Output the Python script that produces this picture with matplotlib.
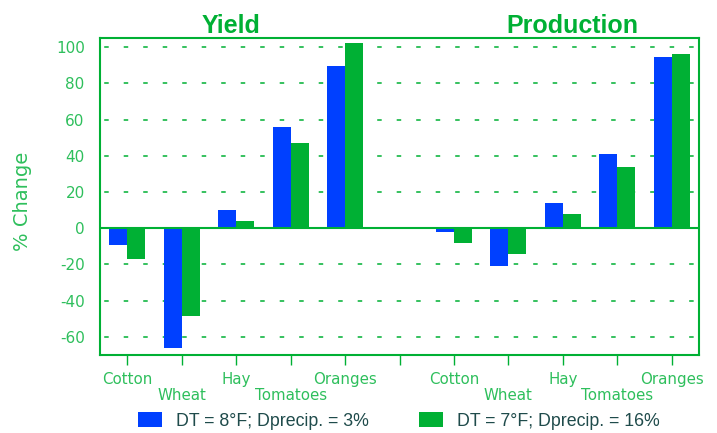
import matplotlib
matplotlib.use("Agg")
import matplotlib.pyplot as plt
from matplotlib import font_manager
from matplotlib.patches import Patch
import numpy as np

plt.rcParams['lines.scale_dashes'] = False

names = {f.name for f in font_manager.fontManager.ttflist}
narrow = 'Liberation Sans Narrow' if 'Liberation Sans Narrow' in names else 'Liberation Sans'

crops = ["Cotton", "Wheat", "Hay", "Tomatoes", "Oranges"]
yield_8F = [-9, -66, 10, 56, 89.5]
yield_7F = [-17, -48.5, 4, 47, 102]
prod_8F = [-2, -21, 14, 41, 94.5]
prod_7F = [-8, -14, 8, 34, 96]
series_labels = ["DT = 8°F; Dprecip. = 3%", "DT = 7°F; Dprecip. = 16%"]
panel_titles = ["Yield", "Production"]
yticks = [-60, -40, -20, 0, 20, 40, 60, 80, 100]

BLUE = "#0040FF"
GREEN = "#00B034"
TICKGREEN = "#2EBF5C"
LEGTEXT = "#1F4B4B"

fig = plt.figure(figsize=(7.17, 4.33), dpi=100)
ax = fig.add_axes([100/717, 1-355/433, 599/717, 317/433])

n = len(crops)
pos_yield = np.arange(n)
pos_prod = np.arange(n) + n + 1
w = 0.33

s1 = list(yield_8F) + list(prod_8F)
s2 = list(yield_7F) + list(prod_7F)
xs = np.concatenate([pos_yield, pos_prod])
ax.bar(xs - w/2, s1, width=w, color=BLUE, zorder=3)
ax.bar(xs + w/2, s2, width=w, color=GREEN, zorder=3)

for yv in yticks:
    if yv == 0:
        ax.axhline(0, color=GREEN, lw=1.5, zorder=4)
    else:
        ax.axhline(yv, color=GREEN, lw=1.3, alpha=0.85,
                   linestyle=(11, (4.5/1.389, 15/1.389)), zorder=1)

ax.set_xlim(-0.5, 2*n + 0.5)
ax.set_ylim(-70, 105)
ax.set_yticks(yticks)
ax.set_yticklabels([str(v) for v in yticks])
ax.tick_params(axis='y', length=0, pad=11, labelsize=11, labelcolor=TICKGREEN)

# staggered labels: first row on major ticks, second row on minor ticks
row1_pos, row1_lab, row2_pos, row2_lab = [], [], [], []
for base in (pos_yield, pos_prod):
    for i, c in enumerate(crops):
        if i % 2 == 0:
            row1_pos.append(base[i]); row1_lab.append(c)
        else:
            row2_pos.append(base[i]); row2_lab.append(c)
row2_pos.append(n); row2_lab.append("")
order = np.argsort(row2_pos)
row2_pos = [row2_pos[k] for k in order]
row2_lab = [row2_lab[k] for k in order]

ax.set_xticks(row1_pos)
ax.set_xticklabels(row1_lab)
ax.set_xticks(row2_pos, minor=True)
ax.set_xticklabels(row2_lab, minor=True)
ax.tick_params(axis='x', which='major', length=7, width=1, color=GREEN, pad=5,
               labelsize=10.8, labelcolor=TICKGREEN)
ax.tick_params(axis='x', which='minor', length=7, width=1, color=GREEN, pad=17,
               labelsize=10.8, labelcolor=TICKGREEN)

for sp in ax.spines.values():
    sp.set_color(GREEN)
    sp.set_linewidth(1.5)

fig.text(231/717, 1-33/433, panel_titles[0], ha='center', va='baseline',
         fontsize=18, fontweight='bold', color=GREEN, family=narrow)
fig.text(572/717, 1-33/433, panel_titles[1], ha='center', va='baseline',
         fontsize=18, fontweight='bold', color=GREEN, family=narrow)

fig.text(23/717, 1-201/433, "% Change", rotation=90, ha='center', va='center',
         fontsize=14, color=TICKGREEN)

handles = [Patch(facecolor=BLUE, edgecolor='none'), Patch(facecolor=GREEN, edgecolor='none')]
leg = fig.legend(handles, series_labels, loc='center', bbox_to_anchor=(399/717, 1-421/433),
                 ncol=2, frameon=False, handlelength=1.33, handleheight=0.89,
                 handletextpad=0.8, columnspacing=2.85, borderpad=0,
                 prop={'family': narrow, 'size': 12.8})
for t in leg.get_texts():
    t.set_color(LEGTEXT)

fig.savefig("out.png", dpi=100)
